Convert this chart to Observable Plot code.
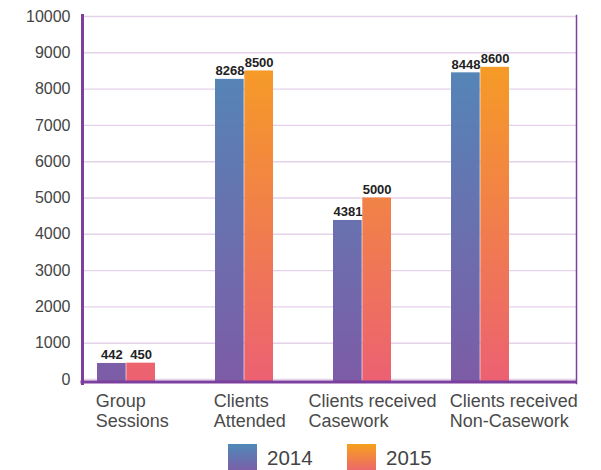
<!DOCTYPE html>
<html><head><meta charset="utf-8">
<script src="https://cdn.jsdelivr.net/npm/d3@7"></script>
<script src="https://cdn.jsdelivr.net/npm/@observablehq/plot@0.6"></script>
<style>
body{margin:0;background:#fff;font-family:"Liberation Sans",Arial,sans-serif;overflow:hidden}
#legend{position:relative;height:27px}
.sw{position:absolute;top:1px;width:29px;height:28px}
.lt{position:absolute;top:3px;font-size:20.5px;color:#444;line-height:24px}
</style></head><body><div id="chart"></div><div id="legend"></div>
<script>
const categories = ["Group Sessions","Clients Attended","Clients received Casework","Clients received Non-Casework"];
const categoryLabels = ["Group\nSessions","Clients\nAttended","Clients received\nCasework","Clients received\nNon-Casework"];
const years = ["2014","2015"];
const values2014 = [442,8268,4381,8448];
const values2015 = [450,8500,5000,8600];
const yTicks = [0,1000,2000,3000,4000,5000,6000,7000,8000,9000,10000];

const rows2014 = categories.map((c,i)=>({category:c, year:years[0], value:values2014[i]}));
const rows2015 = categories.map((c,i)=>({category:c, year:years[1], value:values2015[i]}));
const purple = "#7d3f9e";
const labelFmt = d=>categoryLabels[categories.indexOf(d)];
const xLabelStyle = {tickSize:0, tickPadding:13, textAnchor:"start", fontSize:18, lineHeight:1.11, fill:"#4a4a4a", tickFormat:labelFmt, label:null};

const plot = Plot.plot({
  width:601, height:443, marginLeft:82, marginRight:25, marginTop:16, marginBottom:64,
  style:{fontFamily:"Liberation Sans, Arial, sans-serif", background:"#fff", overflow:"visible"},
  x:{domain:categories, paddingInner:0.512, paddingOuter:0.349, align:0.184, label:null},
  y:{domain:[0,10000], label:null},
  marks:[
    Plot.gridY(yTicks,{stroke:"#e4d2ea", strokeOpacity:1, strokeWidth:1.4}),
    Plot.barY(rows2014,{x:"category", y:"value", fill:"url(#grad2014)", insetRight:29.3, insetBottom:-3}),
    Plot.barY(rows2015,{x:"category", y:"value", fill:"url(#grad2015)", insetLeft:29.3, insetBottom:-3}),
    Plot.text(rows2014,{x:"category", y:"value", text:d=>String(d.value), dx:-14.6, dy:-4, lineAnchor:"bottom", fontWeight:"bold", fontSize:13, fill:"#222"}),
    Plot.text(rows2015,{x:"category", y:"value", text:d=>String(d.value), dx:14.6, dy:-4, lineAnchor:"bottom", fontWeight:"bold", fontSize:13, fill:"#222"}),
    Plot.axisY(yTicks,{tickSize:0, tickPadding:12, fontSize:16, fill:"#444", tickFormat:d=>String(d), label:null}),
    Plot.axisX([categories[0],categories[1],categories[3]],{...xLabelStyle, dx:-30.8}),
    Plot.axisX([categories[2]],{...xLabelStyle, dx:-54}),
    Plot.frame({anchor:"left", stroke:purple, strokeWidth:3, insetBottom:-4, insetTop:-1}),
    Plot.frame({anchor:"right", stroke:purple, strokeWidth:1.5, insetBottom:-4, insetTop:-1}),
    Plot.ruleY([0],{stroke:purple, strokeWidth:3, dy:2.5, insetLeft:-1.5, insetRight:-1})
  ]
});

const defs = d3.select(plot).insert("defs", ":first-child");
function grad(id, c0, c1){
  const g = defs.append("linearGradient").attr("id", id).attr("gradientUnits","userSpaceOnUse")
    .attr("x1",0).attr("x2",0).attr("y1",16).attr("y2",381);
  g.append("stop").attr("offset","0").attr("stop-color",c0);
  g.append("stop").attr("offset","1").attr("stop-color",c1);
}
grad("grad2014","#4e8cba","#7d5ca6");
grad("grad2015","#f7a41a","#ec6172");
document.getElementById("chart").appendChild(plot);

const legend = document.getElementById("legend");
const legendItems = [
  {label:years[0], left:228, bg:"linear-gradient(#4f89b9,#7d5da7)"},
  {label:years[1], left:347, bg:"linear-gradient(#f6a01c,#ec6470)"}
];
legendItems.forEach(it=>{
  const s=document.createElement("div"); s.className="sw"; s.style.left=it.left+"px"; s.style.background=it.bg; legend.appendChild(s);
  const t=document.createElement("div"); t.className="lt"; t.style.left=(it.left+39)+"px"; t.textContent=it.label; legend.appendChild(t);
});
</script></body></html>
